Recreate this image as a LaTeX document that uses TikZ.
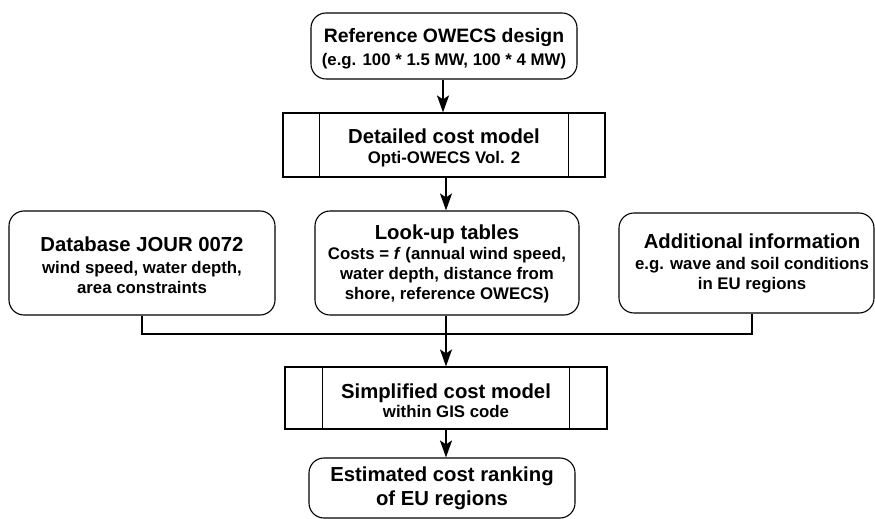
\documentclass[tikz,border=0pt]{standalone}
\usepackage{fontspec}
\setmainfont{Liberation Sans}
\usetikzlibrary{arrows.meta,calc}
\tikzset{
  rbox/.style={draw=black, line width=1.1bp, rounded corners=15bp, inner sep=0pt, align=center},
  pbox/.style={draw=black, line width=1.1bp, inner sep=0pt, align=center},
  conn/.style={line width=2bp},
  arr/.style={line width=2bp, -{Stealth[length=17bp,width=12bp,inset=4bp]}},
  lbl/.style={align=center, inner sep=0pt, font=\fontsize{16.8bp}{20bp}\selectfont\bfseries},
}
\newcommand{\ttl}[1]{{\fontsize{20.3bp}{24bp}\selectfont #1}}
\begin{document}
\begin{tikzpicture}[x=1bp,y=-1bp]
\useasboundingbox (0,0) rectangle (875,519);
% boxes
\node[rbox, minimum width=266bp, minimum height=66bp] (ref) at (444,46) {};
\node[lbl] (reft) at (444,49) {{\fontsize{19.4bp}{24bp}\selectfont Reference OWECS design}\\[3bp](e.g. 100 * 1.5 MW, 100 * 4 MW)};

\node[pbox, minimum width=322bp, minimum height=64bp] (det) at (444,145) {};
\draw[line width=1.1bp] ([xshift=37bp]det.north west) -- ([xshift=37bp]det.south west);
\draw[line width=1.1bp] ([xshift=-37bp]det.north east) -- ([xshift=-37bp]det.south east);
\node[lbl] (dett) at (444,148) {\ttl{Detailed cost model}\\[0bp]Opti-OWECS Vol. 2};

\node[rbox, minimum width=266bp, minimum height=104bp] (db) at (142,263) {};
\node[lbl] (dbt) at (142,265) {\ttl{Database JOUR 0072}\\[2bp]wind speed, water depth,\\area constraints};

\node[rbox, minimum width=264bp, minimum height=104bp] (lut) at (447,263) {};
\node[lbl] (lutt) at (447,264) {\ttl{Look-up tables}\\[0bp]Costs = \textit{f} (annual wind speed,\\water depth, distance from\\shore, reference OWECS)};

\node[rbox, minimum width=255bp, minimum height=100bp] (add) at (746.5,263) {};
\node[lbl] (addt) at (752,263) {\ttl{Additional information}\\[1bp]e.g. wave and soil conditions\\in EU regions};

\node[pbox, minimum width=322bp, minimum height=62bp] (sim) at (446,398) {};
\draw[line width=1.1bp] ([xshift=38bp]sim.north west) -- ([xshift=38bp]sim.south west);
\draw[line width=1.1bp] ([xshift=-38bp]sim.north east) -- ([xshift=-38bp]sim.south east);
\node[lbl] (simt) at (446,401) {\ttl{Simplified cost model}\\[-1bp]within GIS code};

\node[rbox, minimum width=266bp, minimum height=60bp] (est) at (442,488) {};
\node[lbl] (estt) at (442,488) {\ttl{Estimated cost ranking}\\[4bp]\ttl{of EU regions}};

% connectors
\coordinate (j) at (446,334);
\draw[arr] (ref.south -| 443,0) -- (det.north -| 443,0);
\draw[arr] (det.south -| 446,0) -- (lut.north -| 446,0);
\draw[conn] (db.south) -- (db.south |- j) -- (addt.south |- j) -- (add.south -| addt.south);
\draw[arr] (lut.south -| j) -- (sim.north -| j);
\draw[arr] (sim.south -| j) -- (est.north -| j);
\end{tikzpicture}
\end{document}
